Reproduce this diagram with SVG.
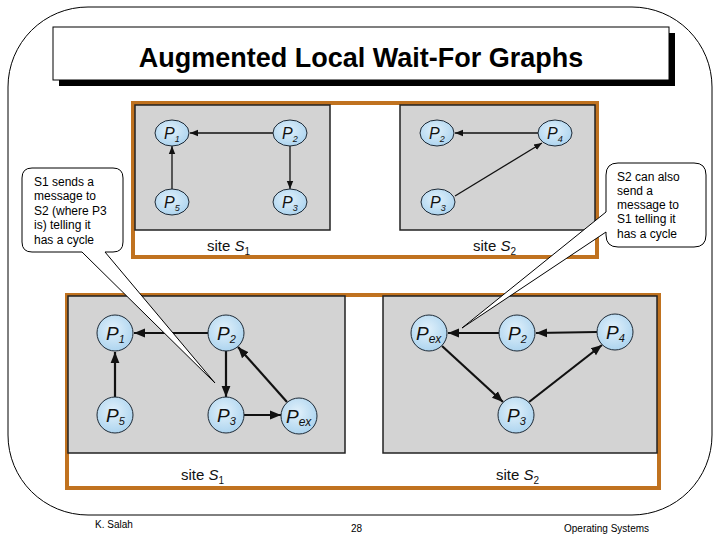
<svg xmlns="http://www.w3.org/2000/svg" width="720" height="540" viewBox="0 0 720 540">
<style>
.pl{font-family:"Liberation Sans",Arial,sans-serif;font-style:italic;fill:#111}
.site{font-family:"Liberation Sans",Arial,sans-serif;font-size:15px;fill:#111}
.co{font-family:"Liberation Sans",Arial,sans-serif;font-size:12px;fill:#000}
.ft{font-family:"Liberation Sans",Arial,sans-serif;font-size:10px;fill:#000}
.node{fill:url(#ng);stroke:#1e2a36;stroke-width:1}
.e1{stroke:#111;stroke-width:1.3;fill:none;marker-end:url(#a1)}
.e2{stroke:#111;stroke-width:2.2;fill:none;marker-end:url(#a2)}
.panel{fill:#d3d3d3;stroke:#222;stroke-width:1.5}
.frame{fill:#fff;stroke:#c0721f;stroke-width:4}
</style>
<defs>
<radialGradient id="ng" cx="45%" cy="40%" r="65%">
<stop offset="0" stop-color="#e2f1fb"/>
<stop offset="1" stop-color="#a9d2ee"/>
</radialGradient>
<marker id="a1" viewBox="0 0 10 10" refX="10" refY="5" markerWidth="8" markerHeight="8" markerUnits="userSpaceOnUse" orient="auto">
<path d="M0,1 L10,5 L0,9 Z" fill="#111"/>
</marker>
<marker id="a2" viewBox="0 0 10 10" refX="10" refY="5" markerWidth="11" markerHeight="11" markerUnits="userSpaceOnUse" orient="auto">
<path d="M0,1 L10,5 L0,9 Z" fill="#111"/>
</marker>
</defs>
<rect width="720" height="540" fill="#fff"/>
<rect x="8" y="7" width="704" height="508" rx="80" ry="80" fill="none" stroke="#000" stroke-width="1"/>
<g id="title">
<rect x="59" y="33" width="616" height="53" fill="#000"/>
<rect x="53" y="27" width="616" height="53" fill="#fff" stroke="#000" stroke-width="1"/>
<text x="361" y="67" text-anchor="middle" font-family="Liberation Sans, Arial, sans-serif" font-weight="bold" font-size="27" fill="#000">Augmented Local Wait-For Graphs</text>
</g>
<g id="top-figure">
<rect class="frame" x="133" y="103" width="464" height="154"/>
<rect class="panel" x="135" y="105" width="195" height="125"/>
<rect class="panel" x="400" y="105" width="195" height="125"/>
<text class="site" x="207" y="251">site <tspan font-style="italic">S</tspan><tspan font-size="10" dy="4">1</tspan></text>
<text class="site" x="473" y="251">site <tspan font-style="italic">S</tspan><tspan font-size="10" dy="4">2</tspan></text>
</g>
<g id="bottom-figure">
<rect class="frame" x="67" y="295" width="592" height="193"/>
<rect class="panel" x="68" y="296" width="277" height="157"/>
<rect class="panel" x="383" y="296" width="274" height="157"/>
<text class="site" x="181" y="480">site <tspan font-style="italic">S</tspan><tspan font-size="10" dy="4">1</tspan></text>
<text class="site" x="496" y="480">site <tspan font-style="italic">S</tspan><tspan font-size="10" dy="4">2</tspan></text>
</g>
<g id="connectors">
<line class="e1" x1="273" y1="133" x2="190" y2="133"/>
<line class="e1" x1="172" y1="189" x2="172" y2="146"/>
<line class="e1" x1="290" y1="146" x2="290" y2="189"/>
<line class="e1" x1="538" y1="133" x2="455" y2="133"/>
<line class="e1" x1="455" y1="196" x2="542" y2="143"/>
<line class="e2" x1="208" y1="333" x2="134" y2="333"/>
<line class="e2" x1="115" y1="397" x2="115" y2="352"/>
<line class="e2" x1="226" y1="351" x2="226" y2="397"/>
<line class="e2" x1="244" y1="415" x2="281" y2="415"/>
<line class="e2" x1="287" y1="402" x2="238" y2="347"/>
<line class="e2" x1="499" y1="333" x2="448" y2="333"/>
<line class="e2" x1="597" y1="332" x2="536" y2="333"/>
<line class="e2" x1="442" y1="346" x2="503" y2="402"/>
<line class="e2" x1="529" y1="402" x2="602" y2="345"/>
</g>
<g id="s1-P1"><ellipse class="node" cx="172" cy="133" rx="17" ry="13"/><text class="pl" x="164" y="139" font-size="16">P<tspan font-size="9" dy="3">1</tspan></text></g>
<g id="s1-P2"><ellipse class="node" cx="290" cy="133" rx="17" ry="13"/><text class="pl" x="282" y="139" font-size="16">P<tspan font-size="9" dy="3">2</tspan></text></g>
<g id="s1-P5"><ellipse class="node" cx="172" cy="202" rx="17" ry="13"/><text class="pl" x="164" y="208" font-size="16">P<tspan font-size="9" dy="3">5</tspan></text></g>
<g id="s1-P3"><ellipse class="node" cx="290" cy="202" rx="17" ry="13"/><text class="pl" x="282" y="208" font-size="16">P<tspan font-size="9" dy="3">3</tspan></text></g>
<g id="s2-P2"><ellipse class="node" cx="437" cy="133" rx="17" ry="13"/><text class="pl" x="429" y="139" font-size="16">P<tspan font-size="9" dy="3">2</tspan></text></g>
<g id="s2-P4"><ellipse class="node" cx="555" cy="133" rx="17" ry="13"/><text class="pl" x="547" y="139" font-size="16">P<tspan font-size="9" dy="3">4</tspan></text></g>
<g id="s2-P3"><ellipse class="node" cx="438" cy="202" rx="17" ry="13"/><text class="pl" x="430" y="208" font-size="16">P<tspan font-size="9" dy="3">3</tspan></text></g>
<g id="b1-P1"><circle class="node" cx="115" cy="333" r="18"/><text class="pl" x="106" y="340" font-size="19">P<tspan font-size="11" dy="3">1</tspan></text></g>
<g id="b1-P2"><circle class="node" cx="226" cy="333" r="18"/><text class="pl" x="217" y="340" font-size="19">P<tspan font-size="11" dy="3">2</tspan></text></g>
<g id="b1-P5"><circle class="node" cx="115" cy="415" r="18"/><text class="pl" x="106" y="422" font-size="19">P<tspan font-size="11" dy="3">5</tspan></text></g>
<g id="b1-P3"><circle class="node" cx="226" cy="415" r="18"/><text class="pl" x="217" y="422" font-size="19">P<tspan font-size="11" dy="3">3</tspan></text></g>
<g id="b1-Pex"><circle class="node" cx="299" cy="416" r="18"/><text class="pl" x="286" y="423" font-size="19">P<tspan font-size="12" dy="3">ex</tspan></text></g>
<g id="b2-Pex"><circle class="node" cx="429" cy="333" r="18"/><text class="pl" x="416" y="340" font-size="19">P<tspan font-size="12" dy="3">ex</tspan></text></g>
<g id="b2-P2"><circle class="node" cx="517" cy="333" r="18"/><text class="pl" x="508" y="340" font-size="19">P<tspan font-size="11" dy="3">2</tspan></text></g>
<g id="b2-P4"><circle class="node" cx="615" cy="332" r="18"/><text class="pl" x="606" y="339" font-size="19">P<tspan font-size="11" dy="3">4</tspan></text></g>
<g id="b2-P3"><circle class="node" cx="516" cy="415" r="18"/><text class="pl" x="507" y="422" font-size="19">P<tspan font-size="11" dy="3">3</tspan></text></g>
<g id="callout-left">
<path d="M32,168 H113 Q123,168 123,178 V242 Q123,252 113,252 H105 L215,383 L82,252 H32 Q22,252 22,242 V178 Q22,168 32,168 Z" fill="#fff" stroke="#000" stroke-width="1"/>
<text class="co" x="34" y="186">S1 sends a</text>
<text class="co" x="34" y="200">message to</text>
<text class="co" x="34" y="215">S2 (where P3</text>
<text class="co" x="34" y="229">is) telling it</text>
<text class="co" x="34" y="244">has a cycle</text>
</g>
<g id="callout-right">
<path d="M618,163 H694 Q706,163 706,175 V235 Q706,247 694,247 H618 Q606,247 606,235 V232 L462,328 L606,212 V175 Q606,163 618,163 Z" fill="#fff" stroke="#000" stroke-width="1"/>
<text class="co" x="617" y="181">S2 can also</text>
<text class="co" x="617" y="195">send a</text>
<text class="co" x="617" y="209">message to</text>
<text class="co" x="617" y="223">S1 telling it</text>
<text class="co" x="617" y="238">has a cycle</text>
</g>
<g id="footer">
<text class="ft" x="95" y="528">K. Salah</text>
<text class="ft" x="351" y="532">28</text>
<text class="ft" x="564" y="532">Operating Systems</text>
</g>
</svg>
